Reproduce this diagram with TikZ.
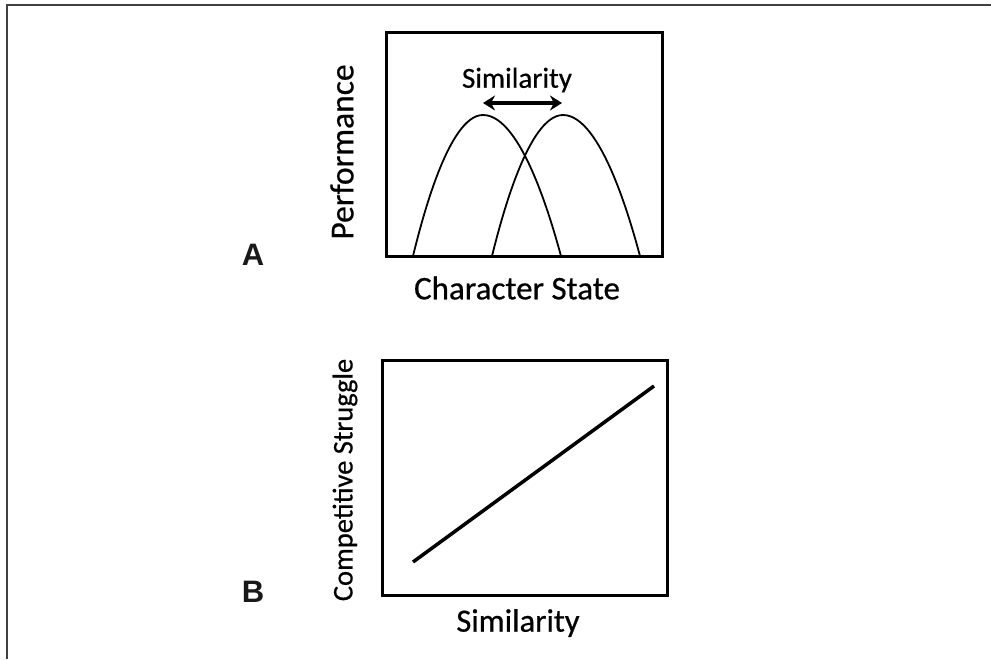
\documentclass[tikz,border=0pt]{standalone}
\usepackage{fontspec}
\setmainfont[FakeBold=0.6]{Carlito}
\newfontfamily\labfont{Liberation Sans}
\usetikzlibrary{arrows.meta}
\begin{document}
\begin{tikzpicture}[x=1pt,y=-1pt,
  axisbox/.style={draw=black,line width=3pt},
  curve/.style={draw=black,line width=1.8pt},
  axlabel/.style={inner sep=0pt,text=black},
  panel/.style={font=\labfont\bfseries\fontsize{31}{31}\selectfont,inner sep=0pt,text=black!90}]
\useasboundingbox (0,0) rectangle (991,659);
\draw[line width=2pt,draw=black!75] (7,659) -- (7,5) -- (991,5);
% Panel A
\draw[axisbox] (386,32) rectangle (662,256);
\draw[curve] (413,256) parabola bend (483,115) (561,256);
\draw[curve] (492,256) parabola bend (563,115) (640,256);
\node[axlabel,font=\fontsize{29}{29}\selectfont] (simA) at (517,80) {Similarity};
\coordinate (al) at (483,103);
\coordinate (ar) at (562,103);
\draw[line width=3.5pt,{Stealth[length=12pt,width=15pt]}-{Stealth[length=12pt,width=15pt]}] (al) -- (ar);
\node[axlabel,rotate=90,font=\fontsize{33.5}{33}\selectfont] (perf) at (342,152) {Performance};
\node[axlabel,font=\fontsize{33}{33}\selectfont] (cs) at (517,288) {Character State};
\node[panel] (A) at (253,255) {A};
% Panel B
\draw[axisbox] (382,360) rectangle (667,595);
\coordinate (l0) at (413,562);
\coordinate (l1) at (654,386);
\draw[line width=3.5pt] (l0) -- (l1);
\node[axlabel,rotate=90,font=\fontsize{28.5}{28}\selectfont] (comp) at (345,480) {Competitive Struggle};
\node[axlabel,font=\fontsize{32.5}{32}\selectfont] (simB) at (518,623) {Similarity};
\node[panel] (B) at (253,592) {B};
\end{tikzpicture}
\end{document}
